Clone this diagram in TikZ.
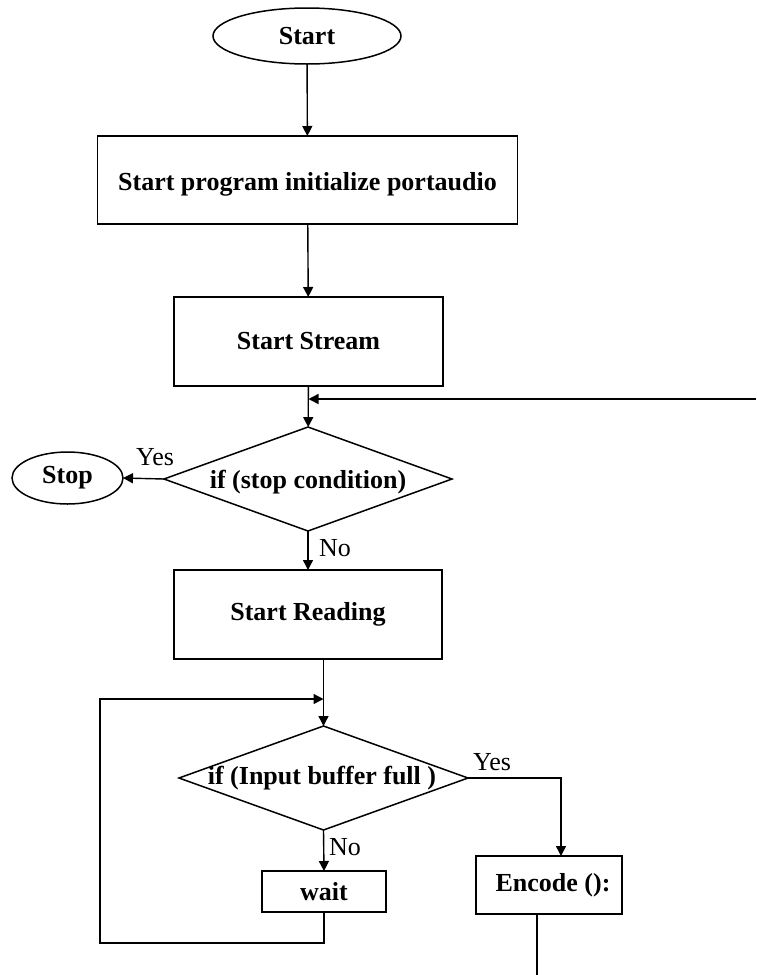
\documentclass[tikz,border=0pt]{standalone}
\usepackage{fontspec}
\setmainfont{Liberation Serif}
\usetikzlibrary{shapes.geometric,arrows.meta}
\begin{document}
\begin{tikzpicture}[x=1pt,y=-1pt,
  every node/.style={inner sep=0pt, outer sep=0pt},
  flow/.style={line width=1.4pt},
  arr/.style={flow, -{Triangle[length=10pt,width=10pt]}},
  term/.style={ellipse, draw, line width=1.5pt, font=\fontsize{26}{30}\selectfont\bfseries},
  proc/.style={rectangle, draw, line width=1.4pt, font=\fontsize{26}{30}\selectfont\bfseries},
  cond/.style={diamond, draw, line width=1.5pt, font=\fontsize{26}{30}\selectfont\bfseries},
  tag/.style={font=\fontsize{26}{30}\selectfont}
]
% page area
\path[use as bounding box, fill=white] (0,0) rectangle (756,975);

% nodes
\node[term, minimum width=188pt, minimum height=56pt] (start) at (307,36) {Start};
\node[proc, minimum width=420pt, minimum height=88pt] (init) at (307.5,180) {\smash{\raisebox{-10.5pt}{Start program initialize portaudio}}};
\node[proc, minimum width=269pt, minimum height=89pt] (stream) at (308.5,341.5) {Start Stream};
\node[cond, minimum width=288pt, minimum height=104pt] (stopq) at (308,479) {\makebox[0pt][c]{\smash{\raisebox{-9.5pt}{if (stop condition)}}}};
\node[term, minimum width=111pt, minimum height=52pt] (stop) at (67.5,478) {Stop};
\node[proc, minimum width=268pt, minimum height=89pt] (read) at (308,614.5) {Start Reading};
\node[cond, minimum width=289pt, minimum height=104pt] (fullq) at (323.5,778) {\makebox[0pt][c]{\hspace*{-3pt}if (Input buffer full )}};
\node[proc, minimum width=124pt, minimum height=41pt] (wait) at (324,891.5) {wait};
\node[proc, minimum width=146pt, minimum height=58pt] (encode) at (549,885) {\hspace*{8pt}Encode ():};

% free ends of connectors
\coordinate (back) at (756,399);
\coordinate (loopbl) at (100,943);
\coordinate (looptl) at (100,699);
\coordinate (yesbend) at (561,778);
\coordinate (out) at (537,975);

% connectors
\draw[arr] (start) -- (init);
\draw[arr] (init) -- (stream);
\draw[arr] (stream) -- (stopq);
\draw[arr] (back) -- (stream.south |- back);
\draw[arr] (stopq.west) -- (stop.east);
\draw[arr] (stopq.south) -- (read.north);
\draw[arr] (fullq.north |- read.south) -- (fullq.north);
\draw[arr] (fullq.south) -- (wait.north);
\draw[arr] (wait.south) -- (wait.south |- loopbl) -- (loopbl) -- (looptl) -- (fullq.north |- looptl);
\draw[arr] (fullq.east) -- (yesbend) -- (yesbend |- encode.north);
\draw[flow] (out |- encode.south) -- (out);

% branch labels
\node[tag] (yes1) at (155,457) {Yes};
\node[tag] (no1) at (335,548) {No};
\node[tag] (yes2) at (492,762) {Yes};
\node[tag] (no2) at (345,847) {No};
\end{tikzpicture}
\end{document}
